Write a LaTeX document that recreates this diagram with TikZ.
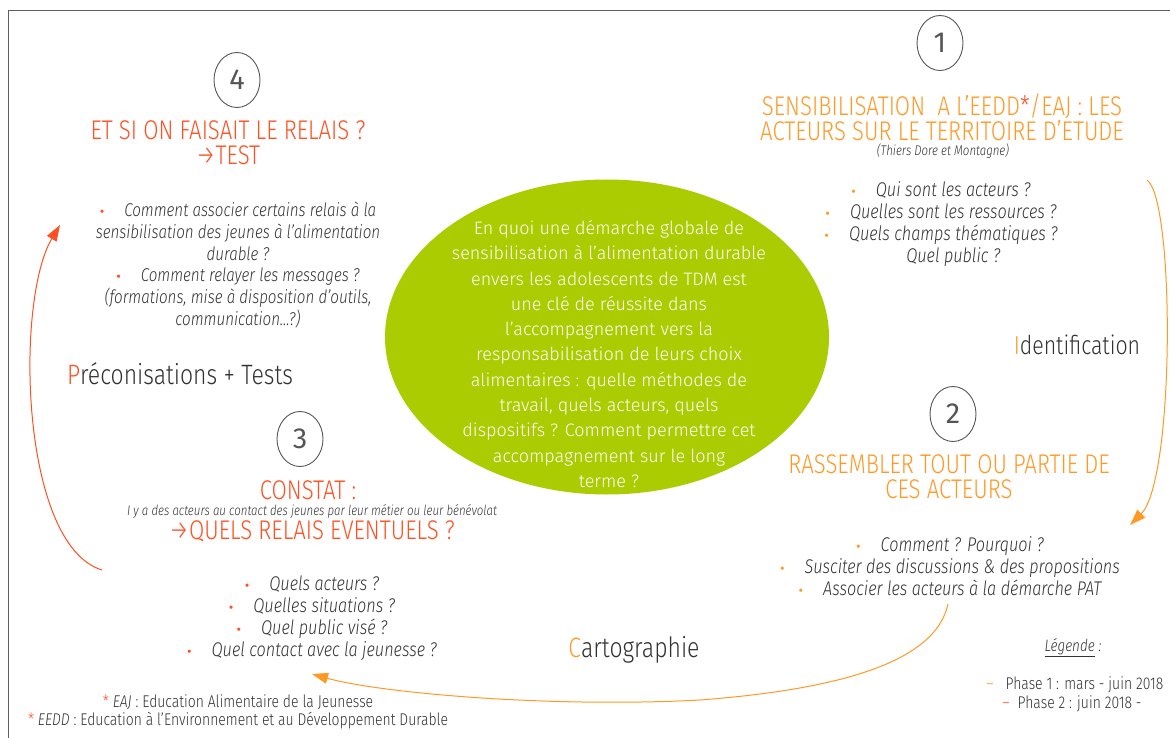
\documentclass[tikz,border=0pt]{standalone}
\usepackage{fontspec}
\setmainfont{Fira Sans Light}[ItalicFont={Fira Sans Light Italic}]
\newfontfamily\gothic{Fira Sans Light}[ItalicFont={Fira Sans Light Italic},FakeStretch=0.82]
\newfontfamily\chiffre{Fira Sans}
\usepackage{xcolor}
\usetikzlibrary{shapes.geometric,arrows.meta}
\definecolor{redA}{RGB}{255,80,34}
\definecolor{orangeA}{RGB}{255,153,38}
\definecolor{greenA}{RGB}{170,204,0}
\definecolor{textgray}{RGB}{50,50,50}
\definecolor{numgray}{RGB}{85,85,85}
\definecolor{framegray}{RGB}{95,95,95}
\newcommand{\puce}[1]{{\color{#1}\upshape\chiffre\fontsize{14}{14}\selectfont\textbullet}\hspace{20pt}}
\tikzset{every picture/.style={line width=0.75pt},
  numcircle/.style={draw=numgray, line width=0.9pt, ellipse, minimum width=46pt, minimum height=55pt, inner sep=0pt, text=numgray, font=\chiffre\fontsize{29}{29}\selectfont},
  titlered/.style={text=redA, align=center, inner sep=0pt, font=\gothic\fontsize{27}{25}\selectfont},
  titleorange/.style={text=orangeA, align=center, inner sep=0pt, font=\gothic\fontsize{27}{25}\selectfont},
  questions/.style={text=textgray, align=center, inner sep=0pt, font=\gothic\itshape\fontsize{19.8}{22}\selectfont},
  phase/.style={text=textgray, inner sep=0pt, font=\gothic\fontsize{28}{28}\selectfont},
  smallnote/.style={text=textgray, align=center, inner sep=0pt, font=\gothic\itshape\fontsize{14}{14}\selectfont},
  legendtext/.style={anchor=west, text=textgray, inner sep=0pt, font=\gothic\fontsize{17}{17}\selectfont},
  arrowtip/.style={line width=1pt, -{Triangle[length=16pt,width=11pt]}}
}

\begin{document}
\begin{tikzpicture}[x=1pt,y=1pt,yscale=-1,xscale=1]
\useasboundingbox (0,0) rectangle (1170,738);

%Frame
\draw [framegray, line width=1pt] (8,738) -- (8,11) -- (1170,11) ;

%Shape: Ellipse [id:bulle]
\node [ellipse, fill=greenA, minimum width=444pt, minimum height=315pt, inner sep=0pt] (bulle) at (607,337) {};
% Text Node
\node [text=white, align=center, inner sep=0pt, font=\fontsize{18}{25.3}\selectfont] (centre) at (609,354) {En quoi une démarche globale de\\sensibilisation à l’alimentation durable\\envers les adolescents de TDM est\\une clé de réussite dans\\l’accompagnement vers la\\responsabilisation de leurs choix\\alimentaires : quelle méthodes de\\travail, quels acteurs, quels\\dispositifs ? Comment permettre cet\\accompagnement sur le long\\terme ?};

%Numbers
\node [numcircle] (num1) at (940,43) {1};
\node [numcircle] (num2) at (953,414) {2};
\node [numcircle] (num3) at (300,439) {3};
\node [numcircle] (num4) at (237,80) {4};

% Text Node : 1
\node [titleorange] (titre1) at (942,117) {SENSIBILISATION\ \ A L’EEDD{\color{redA}*}/EAJ : LES\\ACTEURS SUR LE TERRITOIRE D’ETUDE};
\node [smallnote] (territoire) at (943,151) {(Thiers Dore et Montagne)};
\node [questions] (quest1) at (941,224) {\puce{orangeA}Qui sont les acteurs ?\\\puce{orangeA}Quelles sont les ressources ?\\\puce{orangeA}Quels champs thématiques ?\\\phantom{\puce{orangeA}}Quel public ?};

% Text Node : 2
\node [titleorange] (titre2) at (949,477) {RASSEMBLER TOUT OU PARTIE DE\\CES ACTEURS};
\node [questions] (quest2) at (950,566) {\puce{orangeA}Comment ? Pourquoi ?\\\puce{orangeA}Susciter des discussions \& des propositions\\\puce{orangeA}Associer les acteurs à la démarche PAT};

% Text Node : 3
\node [titlered] (titre3) at (308,490) {CONSTAT :};
\node [smallnote] (constat) at (312,511) {I y a des acteurs au contact des jeunes par leur métier ou leur bénévolat};
\node [titlered] (relais) at (312,531) {→QUELS RELAIS EVENTUELS ?};
\node [questions] (quest3) at (312,618) {\puce{redA}Quels acteurs ?\\\puce{redA}Quelles situations ?\\\puce{redA}Quel public visé ?\\\puce{redA}Quel contact avec la jeunesse ?};

% Text Node : 4
\node [titlered] (titre4) at (228,143) {ET SI ON FAISAIT LE RELAIS ?\\→TEST};
\node [questions, font=\gothic\itshape\fontsize{18.5}{21.8}\selectfont] (quest4) at (238,265) {\puce{redA}Comment associer certains relais à la\\sensibilisation des jeunes à l’alimentation\\durable ?\\\puce{redA}Comment relayer les messages ?\\(formations, mise à disposition d’outils,\\communication…?)};

% Text Node : phases
\node [phase, font=\gothic\fontsize{26}{26}\selectfont] (identif) at (1077,345) {\textcolor{orangeA}{I}dentification};
\node [phase] (carto) at (634,650) {\textcolor{orangeA}{C}artographie};
\node [phase] (precon) at (180,374) {\textcolor{redA}{P}réconisations + Tests};

% Text Node : legend
\node [text=textgray, inner sep=0pt, font=\gothic\itshape\fontsize{16.5}{16.5}\selectfont] (legende) at (1073,648) {\underline{Légende} :};
\node [legendtext] (phase1) at (986,685) {{\color{orangeA}–}\hspace{12pt}Phase 1 : mars - juin 2018};
\node [legendtext] (phase2) at (1002,704) {{\color{redA}–}\hspace{8pt}Phase 2 : juin 2018 -};
\node [text=textgray, align=center, inner sep=0pt, font=\gothic\fontsize{17}{18}\selectfont] (notes) at (238,712) {{\color{redA}*} \textit{EAJ} : Education Alimentaire de la Jeunesse\\{\color{redA}*} \textit{EEDD} : Education à l’Environnement et au Développement Durable};

%Curve Lines
\coordinate (a1s) at (1147,180);
\coordinate (a1e) at (1130,525);
\draw [orangeA, arrowtip] (a1s) .. controls (1175,200) and (1175,480) .. (a1e) ;
\coordinate (a2s) at (948,604);
\coordinate (a2m) at (700,700);
\coordinate (a2e) at (312,674);
\draw [orangeA, arrowtip] (a2s) .. controls (935,665) and (830,690) .. (a2m) .. controls (550,708) and (380,693) .. (a2e) ;
\coordinate (a3s) at (102,570);
\coordinate (a3e) at (60,225);
\draw [redA, arrowtip] (a3s) .. controls (20,545) and (15,300) .. (a3e) ;

\end{tikzpicture}
\end{document}
